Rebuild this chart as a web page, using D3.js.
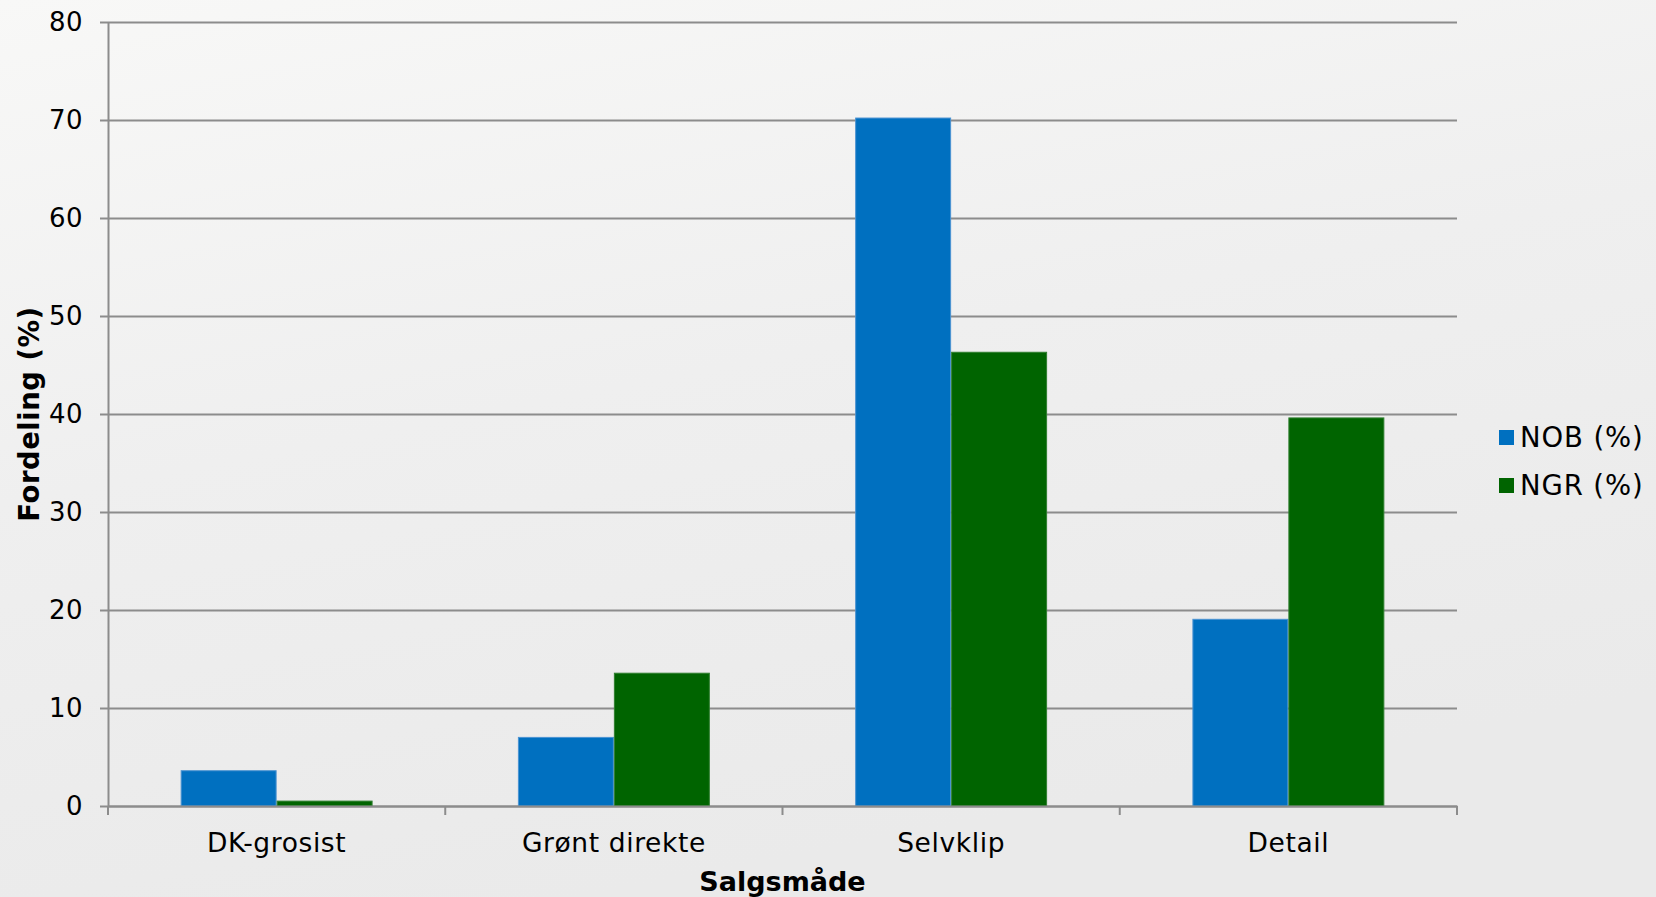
<!DOCTYPE html>
<html>
<head>
<meta charset="utf-8">
<script src="https://cdn.jsdelivr.net/npm/d3@7"></script>
<style>
  html, body { margin: 0; padding: 0; }
  body { width: 1656px; height: 897px; overflow: hidden; }
  text { font-family: "DejaVu Sans", Verdana, sans-serif; fill: #000; }
</style>
</head>
<body>
<svg id="chart"></svg>
<script>
// data
var categories = ["DK-grosist", "Grønt direkte", "Selvklip", "Detail"];
var seriesNames = ["NOB (%)", "NGR (%)"];
var nobValues = [3.6, 7.0, 70.2, 19.05];
var ngrValues = [0.5, 13.55, 46.3, 39.6];
var yTicks = [0, 10, 20, 30, 40, 50, 60, 70, 80];

var colors = {"NOB (%)": "#0070c0", "NGR (%)": "#006400"};
var edges = {"NOB (%)": "#4b93d2", "NGR (%)": "#2f7f2f"};

var width = 1656, height = 897;
var margin = {top: 22, left: 108, right: 199, bottom: 91};
var plotW = width - margin.left - margin.right,
    plotH = height - margin.top - margin.bottom;

var svg = d3.select("#chart")
  .attr("width", width)
  .attr("height", height);

// background
var grad = svg.append("defs").append("linearGradient")
  .attr("id", "bg")
  .attr("x1", "0").attr("y1", "0")
  .attr("x2", "0.35").attr("y2", "1");
grad.append("stop").attr("offset", "0").attr("stop-color", "#f8f8f7");
grad.append("stop").attr("offset", "0.5").attr("stop-color", "#efefef");
grad.append("stop").attr("offset", "1").attr("stop-color", "#eaeaea");
svg.append("rect")
  .attr("width", width).attr("height", height)
  .attr("fill", "url(#bg)");

var rows = categories.map(function(c, i) {
  return {cat: c, vals: [
    {name: seriesNames[0], val: nobValues[i]},
    {name: seriesNames[1], val: ngrValues[i]}
  ]};
});

// scales
var x0 = d3.scaleBand().domain(categories).range([0, plotW]).padding(0),
    x1 = d3.scaleBand().domain(seriesNames).range([0, x0.bandwidth()])
      .paddingInner(0).paddingOuter(0.757),
    y = d3.scaleLinear().domain([0, 80]).range([plotH, 0]);

var g = svg.append("g")
  .attr("transform", "translate(" + margin.left + "," + margin.top + ")");

// grid lines
g.append("g")
  .attr("class", "grid")
  .call(d3.axisLeft(y).tickValues(yTicks).tickSize(-plotW).tickFormat(""))
  .call(function(s) { s.select(".domain").remove(); })
  .selectAll("line")
    .attr("stroke", "#8c8c8c")
    .attr("stroke-width", 2);

// y axis
var yAxis = g.append("g")
  .attr("class", "yAxis")
  .call(d3.axisLeft(y).tickValues(yTicks).tickSize(8).tickPadding(17).tickSizeOuter(0));
yAxis.selectAll("text")
  .style("font-size", "26px")
  .style("letter-spacing", "0.5px");

// bars
var groups = g.selectAll(".grp")
    .data(rows)
  .enter().append("g")
    .attr("class", "grp")
    .attr("transform", function(d) { return "translate(" + x0(d.cat) + ",0)"; });

groups.selectAll("rect")
    .data(function(d) { return d.vals; })
  .enter().append("rect")
    .attr("x", function(d) { return x1(d.name) + 0.5; })
    .attr("y", function(d) { return y(d.val); })
    .attr("width", x1.bandwidth() - 1)
    .attr("height", function(d) { return plotH - y(d.val); })
    .attr("fill", function(d) { return colors[d.name]; })
    .attr("stroke", function(d) { return edges[d.name]; })
    .attr("stroke-width", 1);

// x axis (labels centred in bands)
var xAxis = g.append("g")
  .attr("class", "xAxis")
  .attr("transform", "translate(0," + plotH + ")")
  .call(d3.axisBottom(x0).tickSize(0).tickPadding(27).tickSizeOuter(0));
xAxis.selectAll("text")
  .style("font-size", "26.5px")
  .style("letter-spacing", "0.6px");

// x tick marks on band edges
var edgeVals = categories.map(function(c) { return x0(c); }).concat([plotW]);
xAxis.selectAll(".edgeTick")
    .data(edgeVals)
  .enter().append("line")
    .attr("class", "edgeTick")
    .attr("x1", function(d) { return d; })
    .attr("x2", function(d) { return d; })
    .attr("y1", 0)
    .attr("y2", 9);

svg.selectAll(".domain, .yAxis line, .xAxis line")
  .attr("stroke", "#8c8c8c")
  .attr("stroke-width", 2);

// axis titles
g.append("text")
  .attr("x", plotW / 2)
  .attr("y", plotH + 85)
  .attr("text-anchor", "middle")
  .style("font-size", "27px")
  .style("font-weight", "bold")
  .text("Salgsmåde");

g.append("text")
  .attr("transform", "rotate(-90)")
  .attr("x", -plotH / 2)
  .attr("y", 39 - margin.left)
  .attr("text-anchor", "middle")
  .style("font-size", "27.5px")
  .style("font-weight", "bold")
  .style("letter-spacing", "0.5px")
  .text("Fordeling (%)");

// legend
var legend = svg.append("g")
  .attr("transform", "translate(1499,430)");

var items = legend.selectAll(".item")
    .data(seriesNames)
  .enter().append("g")
    .attr("class", "item")
    .attr("transform", function(d, i) { return "translate(0," + (i * 48) + ")"; });

items.append("rect")
  .attr("width", 15)
  .attr("height", 15)
  .attr("fill", function(d) { return colors[d]; });

items.append("text")
  .attr("x", 21)
  .attr("y", 17)
  .style("font-size", "27.5px")
  .style("letter-spacing", "0.9px")
  .text(function(d) { return d; });
</script>
</body>
</html>
